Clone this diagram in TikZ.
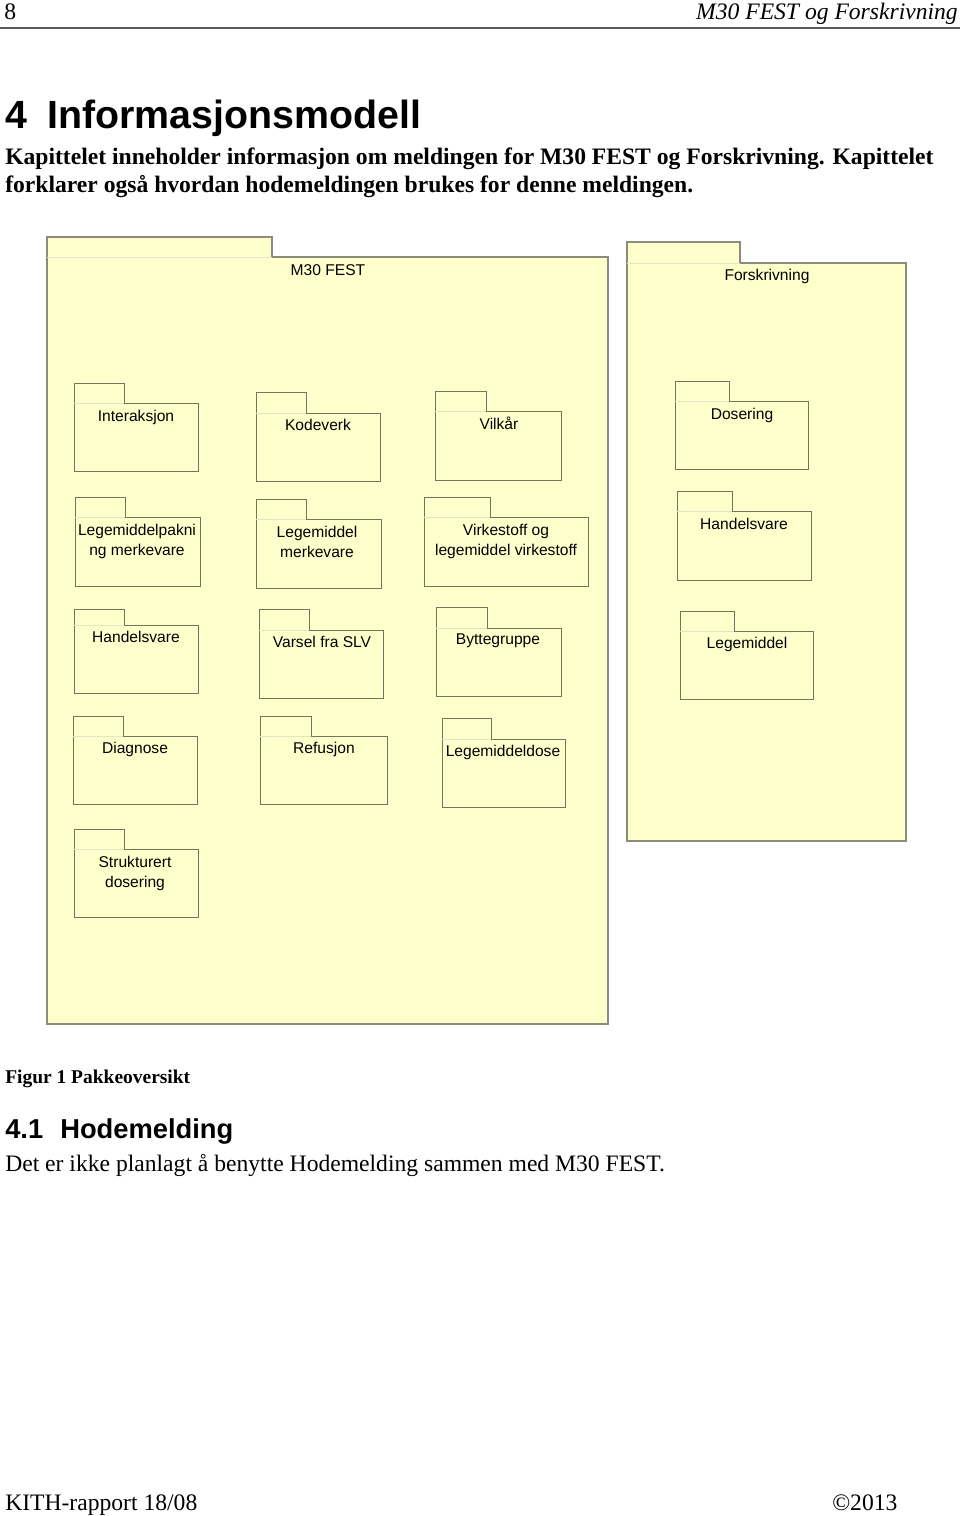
\documentclass[tikz,border=0pt]{standalone}
\usepackage{fontspec}
\setmainfont{Liberation Serif}
\setsansfont{Liberation Sans}
\definecolor{pkgyellow}{RGB}{255,255,204}
\definecolor{pkgedge}{RGB}{120,116,92}
\definecolor{outeredge}{RGB}{140,140,124}
\definecolor{tabedge}{RGB}{230,228,190}
\definecolor{rulegray}{RGB}{90,90,90}
% #1 style, #2 left x, #3 tab top y, #4 tab right x, #5 body top y, #6 right x, #7 bottom y
\newcommand{\pkgshape}[7][pkgline]{%
  \draw[#1] (#2,#7) -- (#2,#3) -- (#4,#3) -- (#4,#5) -- (#6,#5) -- (#6,#7) -- cycle;
  \draw[tabsep] (#2,#5) -- (#4,#5);}
\begin{document}
\begin{tikzpicture}[x=0.75pt,y=-0.75pt,
  pkgline/.style={draw=pkgedge, line width=0.75pt, fill=pkgyellow},
  outerline/.style={draw=outeredge, line width=0.9pt, fill=pkgyellow},
  tabsep/.style={draw=tabedge, line width=0.6pt},
  pkglabel/.style={font=\sffamily\fontsize{11.7}{14.6}\selectfont, anchor=base, align=center, inner sep=0pt},
  bodytext/.style={font=\fontsize{17.7}{20.25}\selectfont, anchor=base west, inner sep=0pt},
  boldtext/.style={font=\bfseries\fontsize{17.7}{20.25}\selectfont, anchor=base west, inner sep=0pt}]
\useasboundingbox (0,0) rectangle (960,1516);
\fill[white] (0,0) rectangle (960,1516);

% page header
\node[bodytext] (pagenum) at (4,20) {8};
\node[font=\itshape\fontsize{17.7}{20.25}\selectfont, anchor=base east, inner sep=0pt] (runhead) at (958,20) {M30 FEST og Forskrivning};
\draw[rulegray, line width=1.2pt] (0,28) -- (960,28);

% chapter heading
\node[font=\sffamily\bfseries\fontsize{29.5}{32}\selectfont, anchor=base west, inner sep=0pt] (chapnum) at (5,129) {4};
\node[font=\sffamily\bfseries\fontsize{29.5}{32}\selectfont, anchor=base west, inner sep=0pt] (chaptitle) at (47,129) {Informasjonsmodell};
\node[boldtext] (intro1) at (5,165) {Kapittelet inneholder informasjon om meldingen for M30 FEST og Forskrivning. Kapittelet};
\node[boldtext] (intro2) at (5,192) {forklarer også hvordan hodemeldingen brukes for denne meldingen.};

% outer packages
\pkgshape[outerline]{47}{237}{272}{257}{608}{1024}
\node[pkglabel] (m30) at (328,275) {M30 FEST};
\pkgshape[outerline]{627}{242}{740}{263}{906}{841}
\node[pkglabel] (forskr) at (767,280) {Forskrivning};

% M30 FEST inner packages
\pkgshape{74}{383}{124}{403}{198}{471}
\node[pkglabel] (interaksjon) at (136,421) {Interaksjon};
\pkgshape{256}{392}{306}{413}{380}{481}
\node[pkglabel] (kodeverk) at (318,430) {Kodeverk};
\pkgshape{435}{391}{486}{411}{561}{480}
\node[pkglabel] (vilkaar) at (499,429) {Vilkår};

\pkgshape{75}{497}{125}{517}{200}{586}
\node[pkglabel] (lmpakning) at (137,555) {Legemiddelpakni\\ng merkevare};
\pkgshape{256}{499}{306}{519}{381}{588}
\node[pkglabel] (lmmerke) at (317,557) {Legemiddel\\merkevare};
\pkgshape{424}{497}{490}{517}{588}{586}
\node[pkglabel] (virkestoff) at (506,555) {Virkestoff og\\legemiddel virkestoff};

\pkgshape{74}{609}{124}{625}{198}{693}
\node[pkglabel] (handelsvare1) at (136,642) {Handelsvare};
\pkgshape{259}{609}{309}{630}{383}{698}
\node[pkglabel] (varsel) at (322,647) {Varsel fra SLV};
\pkgshape{436}{607}{487}{628}{561}{696}
\node[pkglabel] (bytte) at (498,644) {Byttegruppe};

\pkgshape{73}{716}{123}{736}{197}{804}
\node[pkglabel] (diagnose) at (135,753) {Diagnose};
\pkgshape{260}{716}{311}{736}{387}{804}
\node[pkglabel] (refusjon) at (324,753) {Refusjon};
\pkgshape{442}{718}{491}{739}{565}{807}
\node[pkglabel] (lmdose) at (503,756) {Legemiddeldose};

\pkgshape{74}{829}{124}{849}{198}{917}
\node[pkglabel] (struktdos) at (135,887) {Strukturert\\dosering};

% Forskrivning inner packages
\pkgshape{675}{381}{729}{401}{808}{469}
\node[pkglabel] (dosering) at (742,419) {Dosering};
\pkgshape{677}{491}{732}{511}{811}{580}
\node[pkglabel] (handelsvare2) at (744,529) {Handelsvare};
\pkgshape{680}{611}{734}{631}{813}{699}
\node[pkglabel] (legemiddel) at (747,648) {Legemiddel};

% caption and following section
\node[font=\bfseries\fontsize{14.6}{17}\selectfont, anchor=base west, inner sep=0pt] (caption) at (5,1083) {Figur 1 Pakkeoversikt};
\node[font=\sffamily\bfseries\fontsize{20.5}{24}\selectfont, anchor=base west, inner sep=0pt] (secnum) at (5,1138) {4.1};
\node[font=\sffamily\bfseries\fontsize{20.5}{24}\selectfont, anchor=base west, inner sep=0pt] (sectitle) at (60,1138) {Hodemelding};
\node[bodytext] (sectext) at (5,1171) {Det er ikke planlagt å benytte Hodemelding sammen med M30 FEST.};

% footer
\node[bodytext] (footleft) at (5,1510) {KITH-rapport 18/08};
\node[bodytext] (footright) at (832,1510) {©2013};
\end{tikzpicture}
\end{document}
